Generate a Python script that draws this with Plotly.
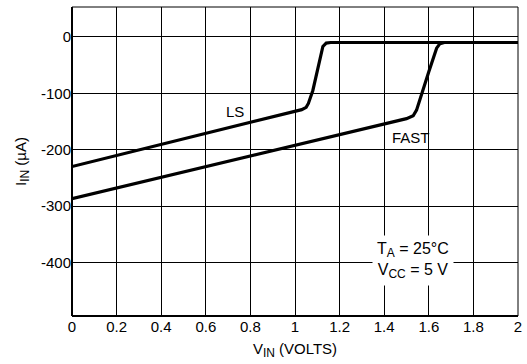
import plotly.graph_objects as go

vin_ls = [0, 1.03, 1.05, 1.06, 1.08, 1.11, 1.125, 1.14, 1.16, 2.0]
iin_ls = [-230, -129, -125, -118, -95, -40, -17, -11, -10, -10]
vin_fast = [0, 1.5, 1.53, 1.545, 1.6, 1.635, 1.65, 1.67, 2.0]
iin_fast = [-287, -145, -140, -130, -62, -20, -12, -10, -10]

x_ticks = [0, 0.2, 0.4, 0.6, 0.8, 1.0, 1.2, 1.4, 1.6, 1.8, 2.0]
x_ticktext = ["0", "0.2", "0.4", "0.6", "0.8", "1", "1.2", "1.4", "1.6", "1.8", "2"]
y_ticks = [0, -100, -200, -300, -400]
y_ticktext = ["0", "-100", "-200", "-300", "-400"]

FONT = "Liberation Sans, Arial, sans-serif"
SUB = "<sub><span style='font-size:12px'>{}</span></sub>"

fig = go.Figure()
fig.add_trace(go.Scatter(x=vin_ls, y=iin_ls, mode="lines",
                         line=dict(color="black", width=3.2), showlegend=False))
fig.add_trace(go.Scatter(x=vin_fast, y=iin_fast, mode="lines",
                         line=dict(color="black", width=3.2), showlegend=False))

fig.add_annotation(x=0.73, y=-133, text="LS", showarrow=False,
                   font=dict(size=15, color="black", family=FONT))
fig.add_annotation(x=1.52, y=-178, text="FAST", showarrow=False,
                   font=dict(size=15, color="black", family=FONT))
fig.add_annotation(x=1.53, y=-397,
                   text="T" + SUB.format("A") + " = 25°C<br>V" + SUB.format("CC") + " = 5 V",
                   showarrow=False, bgcolor="white", borderpad=4,
                   font=dict(size=16, color="black", family=FONT))

# border
fig.add_shape(type="line", xref="paper", yref="paper", x0=0, x1=0, y0=0, y1=1,
              line=dict(color="black", width=2))
fig.add_shape(type="line", xref="paper", yref="paper", x0=0, x1=1, y0=0, y1=0,
              line=dict(color="black", width=2))
fig.add_shape(type="line", xref="paper", yref="paper", x0=0, x1=1, y0=1, y1=1,
              line=dict(color="black", width=1))
fig.add_shape(type="line", xref="paper", yref="paper", x0=1, x1=1, y0=0, y1=1,
              line=dict(color="black", width=1))

fig.update_layout(
    width=527, height=364,
    margin=dict(l=72, r=5, t=7, b=48),
    plot_bgcolor="white", paper_bgcolor="white",
    font=dict(family=FONT, size=15, color="black"),
    xaxis=dict(range=[0, 2], tickvals=x_ticks, ticktext=x_ticktext,
               showgrid=True, gridcolor="black", gridwidth=1,
               zeroline=False, showline=False, ticks="",
               tickfont=dict(size=15),
               title=dict(text="V" + SUB.format("IN") + " (VOLTS)", standoff=9,
                          font=dict(size=15))),
    yaxis=dict(range=[-495, 53], tickvals=y_ticks, ticktext=y_ticktext,
               showgrid=True, gridcolor="black", gridwidth=1,
               zeroline=False, showline=False, ticks="",
               tickfont=dict(size=15),
               title=dict(text="I" + SUB.format("IN") + " (µA)", standoff=10,
                          font=dict(size=15))),
)

fig.write_html("out.html", config={"displayModeBar": False},
               post_script="document.body.style.margin='0px';")
